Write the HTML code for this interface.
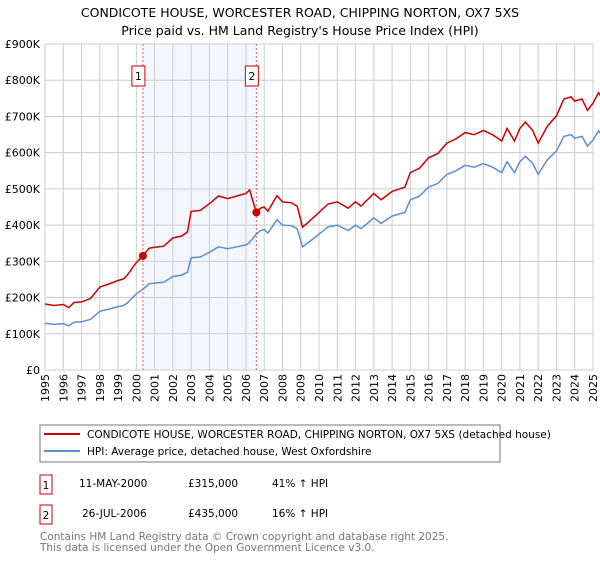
<!DOCTYPE html>
<html><head><meta charset="utf-8"><style>
body{margin:0;width:600px;height:560px;background:#fff;font-family:"Liberation Sans","DejaVu Sans",sans-serif;overflow:hidden}
svg text{font-family:"DejaVu Sans","Liberation Sans",sans-serif}
</style></head><body>
<svg id="c" width="600" height="560" xmlns="http://www.w3.org/2000/svg">
<text x="300" y="17" text-anchor="middle" font-size="12.5">CONDICOTE HOUSE, WORCESTER ROAD, CHIPPING NORTON, OX7 5XS</text>
<text x="300" y="35" text-anchor="middle" font-size="12.5">Price paid vs. HM Land Registry's House Price Index (HPI)</text>
<g id="grid"></g><g id="series"></g><g id="axes"></g>
<g>
<rect x="40" y="425" width="460" height="37" fill="#fff" stroke="#777"/>
<line x1="44" y1="434" x2="80" y2="434" stroke="#cc0000" stroke-width="2"/>
<text x="87" y="438" font-size="10.5">CONDICOTE HOUSE, WORCESTER ROAD, CHIPPING NORTON, OX7 5XS (detached house)</text>
<line x1="44" y1="451" x2="80" y2="451" stroke="#5b8fd0" stroke-width="2"/>
<text x="87" y="455" font-size="10.5">HPI: Average price, detached house, West Oxfordshire</text>
</g>
<g font-size="10.5">
<rect x="40" y="475" width="12" height="19" fill="#fff" stroke="#cc0000"/>
<text x="46" y="489" text-anchor="middle">1</text>
<text x="79" y="487">11-MAY-2000</text>
<text x="188" y="487">£315,000</text>
<text x="272" y="487">41% ↑ HPI</text>
<rect x="40" y="505" width="12" height="19" fill="#fff" stroke="#cc0000"/>
<text x="46" y="519" text-anchor="middle">2</text>
<text x="82" y="517">26-JUL-2006</text>
<text x="188" y="517">£435,000</text>
<text x="272" y="517">16% ↑ HPI</text>
</g>
<text x="40" y="540" font-size="10.5" fill="#777">Contains HM Land Registry data © Crown copyright and database right 2025.</text>
<text x="40" y="551" font-size="10.5" fill="#777">This data is licensed under the Open Government Licence v3.0.</text>
</svg>
<script>
const hpiYears=[1995,1995.5,1996,1996.3,1996.6,1997,1997.5,1998,1998.5,1999,1999.3,1999.5,2000,2000.36,2000.7,2001,2001.5,2002,2002.5,2002.8,2003,2003.5,2004,2004.5,2005,2005.5,2006,2006.2,2006.57,2006.8,2007,2007.2,2007.7,2008,2008.5,2008.8,2009.1,2009.5,2010,2010.5,2011,2011.6,2012,2012.3,2013,2013.4,2014,2014.7,2015,2015.5,2016,2016.5,2017,2017.5,2018,2018.5,2019,2019.5,2020,2020.3,2020.7,2021,2021.3,2021.7,2022,2022.5,2023,2023.4,2023.8,2024,2024.4,2024.7,2025,2025.3,2025.45];
const hpiValues=[129,126,128,122,132,133,140,162,168,175,178,185,210,223,238,240,242,258,262,270,310,312,325,340,335,340,345,352,375,385,388,378,415,400,398,390,340,355,375,395,400,385,400,390,420,405,425,435,470,480,505,515,540,550,565,560,570,560,545,575,545,575,590,570,540,580,605,645,650,640,645,618,635,660,650];
const saleYears=[2000.36,2006.57];
const salePrices=[315,435];
const yTicks=[0,100,200,300,400,500,600,700,800,900];
const yTickLabels=["£0","£100K","£200K","£300K","£400K","£500K","£600K","£700K","£800K","£900K"];
const xTicks=[1995,1996,1997,1998,1999,2000,2001,2002,2003,2004,2005,2006,2007,2008,2009,2010,2011,2012,2013,2014,2015,2016,2017,2018,2019,2020,2021,2022,2023,2024,2025];
const NS="http://www.w3.org/2000/svg";
const X=y=>45+(y-1995)*(548/30);
const Y=v=>370-v*(326/900);
function mk(tag,at,parent){const e=document.createElementNS(NS,tag);for(const k in at)e.setAttribute(k,at[k]);document.getElementById(parent).appendChild(e);return e;}
// shaded band
let band=mk('rect',{x:X(saleYears[0]),y:Y(900),width:X(saleYears[1])-X(saleYears[0]),height:Y(0)-Y(900),fill:'#eef3fc',opacity:0.7},'grid');


yTicks.forEach((v,i)=>{
 let l=mk('line',{x1:X(1995),x2:X(2025),y1:Y(v),y2:Y(v),stroke:'#cccccc'},'grid');
 
 
 let t=mk('text',{x:40,y:Y(v)+4,'text-anchor':'end','font-size':'11'},'axes');t.textContent=yTickLabels[i];
 
 
});
xTicks.forEach(yr=>{
 let l=mk('line',{x1:X(yr),x2:X(yr),y1:Y(900),y2:Y(0),stroke:'#cccccc'},'grid');
 
 
 let t=mk('text',{x:0,y:0,'text-anchor':'end','font-size':'11',transform:`translate(${X(yr)+4},374) rotate(-90)`},'axes');t.textContent=yr;
 
 
});
// red series: sale price indexed by HPI
function hpiAt(yr){for(let i=1;i<hpiYears.length;i++){if(yr<=hpiYears[i]){const f=(yr-hpiYears[i-1])/(hpiYears[i]-hpiYears[i-1]);return hpiValues[i-1]+f*(hpiValues[i]-hpiValues[i-1]);}}return hpiValues[hpiValues.length-1];}
const r1=salePrices[0]/hpiAt(saleYears[0]), r2=salePrices[1]/hpiAt(saleYears[1]);
let bp=hpiYears.map((yr,i)=>`${X(yr).toFixed(1)},${Y(hpiValues[i]).toFixed(1)}`).join(' ');
let rp=hpiYears.map((yr,i)=>{const r=yr<saleYears[1]?r1:r2;return `${X(yr).toFixed(1)},${Y(hpiValues[i]*r).toFixed(1)}`;}).join(' ');
let bl=mk('polyline',{points:bp,fill:'none',stroke:'#5b8fd0','stroke-width':1.5},'series');


let rl=mk('polyline',{points:rp,fill:'none',stroke:'#cc0000','stroke-width':1.5},'series');


saleYears.forEach((yr,i)=>{
 let d=mk('line',{x1:X(yr),x2:X(yr),y1:Y(900),y2:Y(0),stroke:'#e06060','stroke-dasharray':'2,2','stroke-width':1},'series');
 
 
 let c=mk('circle',{cx:X(yr),cy:Y(salePrices[i]),r:4,fill:'#cc0000'},'series');
 
 
 let b=mk('rect',{x:X(yr)-11,y:66,width:13,height:20,fill:'#fff',stroke:'#cc0000'},'series');
 
 
 let t=mk('text',{x:X(yr)-4.5,y:80,'text-anchor':'middle','font-size':'11'},'series');t.textContent=i+1;
 
 
});
</script>
</body></html>
